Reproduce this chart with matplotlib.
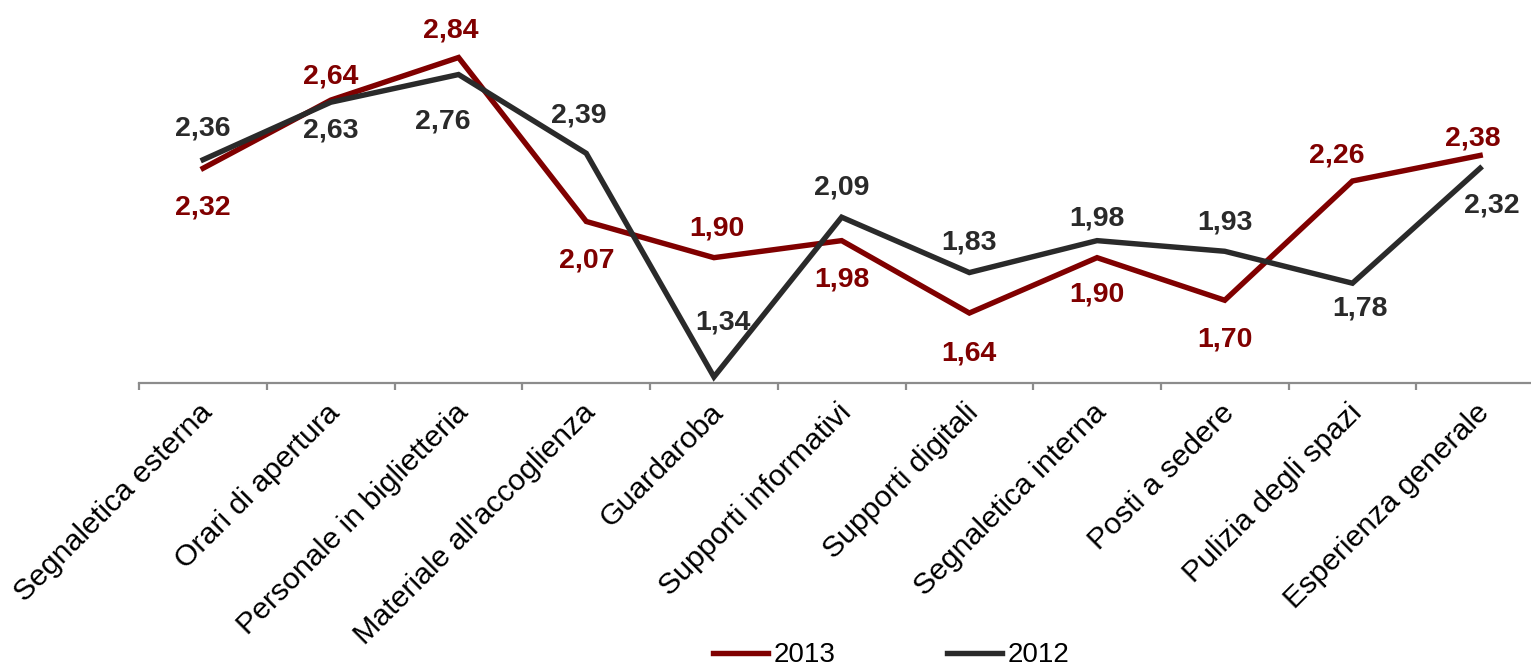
import matplotlib
matplotlib.use("Agg")
import matplotlib.pyplot as plt
from matplotlib.ticker import FixedLocator
from matplotlib.transforms import ScaledTranslation

categories = [
    "Segnaletica esterna", "Orari di apertura", "Personale in biglietteria",
    "Materiale all'accoglienza", "Guardaroba", "Supporti informativi",
    "Supporti digitali", "Segnaletica interna", "Posti a sedere",
    "Pulizia degli spazi", "Esperienza generale",
]
values_2013 = [2.32, 2.64, 2.84, 2.07, 1.90, 1.98, 1.64, 1.90, 1.70, 2.26, 2.38]
values_2012 = [2.36, 2.63, 2.76, 2.39, 1.34, 2.09, 1.83, 1.98, 1.93, 1.78, 2.32]

RED = "#800000"
DARK = "#2a2a2a"

# label offsets in pixels (dx right, dy down) from the data point to the label centre
offsets_2013 = [(0, 36), (0, -27), (-8, -30), (0, 36), (3, -32), (0, 36),
                (0, 37), (0, 34), (0, 36), (-16, -29), (-7, -20)]
offsets_2012 = [(0, -34), (0, 25), (-16, 44), (-8, -41), (9, -58), (0, -33),
                (0, -33), (0, -25), (0, -32), (8, 22), (12, 34)]

W, H, DPI = 1531, 670, 100
fig = plt.figure(figsize=(W / DPI, H / DPI), dpi=DPI)
left_px, right_px = 139.3, 139.3 + 11 * 127.7
bottom_px = 383.3
ax = fig.add_axes([left_px / W, 1 - bottom_px / H, (right_px - left_px) / W, bottom_px / H])

x = list(range(len(categories)))
line13, = ax.plot(x, values_2013, color=RED, lw=3.9, solid_joinstyle="miter", label="2013", zorder=3)
line12, = ax.plot(x, values_2012, color=DARK, lw=3.9, solid_joinstyle="miter", label="2012", zorder=3)

ax.set_xlim(-0.5, len(categories) - 0.5)
ax.set_ylim(1.31, 3.11)

for s in ("top", "right", "left"):
    ax.spines[s].set_visible(False)
ax.spines["bottom"].set_color("#8c8c8c")
ax.spines["bottom"].set_linewidth(1.6)
ax.set_yticks([])

ax.xaxis.set_major_locator(FixedLocator(x))
ax.xaxis.set_minor_locator(FixedLocator([i - 0.5 for i in range(len(categories) + 1)]))
ax.tick_params(axis="x", which="major", length=0, pad=18)
ax.tick_params(axis="x", which="minor", length=5, width=1.6, color="#8c8c8c", direction="out")
ax.set_xticklabels(categories, rotation=45, ha="right", va="center",
                   rotation_mode="anchor", fontsize=21.8, family="Liberation Sans")
shift = ScaledTranslation(5 / DPI, 0, fig.dpi_scale_trans)
for lbl in ax.get_xticklabels():
    lbl.set_transform(lbl.get_transform() + shift)

LABEL_FS = 20.5
cap_half = 0.716 * LABEL_FS * DPI / 72 / 2


def annotate(values, offs, color):
    for xi, v, (dx, dy) in zip(x, values, offs):
        ax.annotate(f"{v:.2f}".replace(".", ","), (xi, v),
                    xytext=(dx, -(dy + cap_half)), textcoords="offset pixels",
                    ha="center", va="baseline", fontsize=LABEL_FS, fontweight="bold",
                    family="Liberation Sans", color=color, zorder=4)


annotate(values_2013, offsets_2013, RED)
annotate(values_2012, offsets_2012, DARK)

fig.legend(handles=[line13, line12], loc="center", bbox_to_anchor=(0.582, 0.022),
           ncol=2, frameon=False, prop={"family": "Liberation Sans", "size": 20},
           handlelength=2.0, handletextpad=0.2, columnspacing=4.0, borderpad=0.2)

fig.savefig("out.png", dpi=DPI)
